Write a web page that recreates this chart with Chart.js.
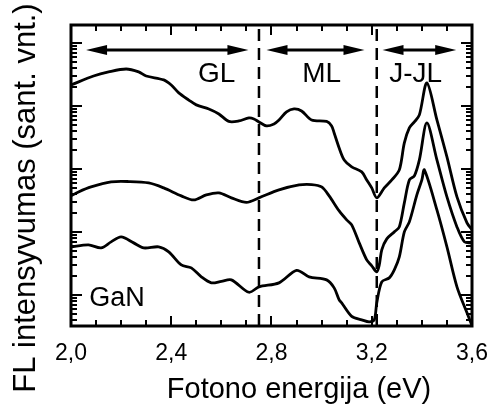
<!DOCTYPE html>
<html><head><meta charset="utf-8">
<script src="https://cdn.jsdelivr.net/npm/chart.js@4.4.1/dist/chart.umd.min.js"></script>
<style>html,body{margin:0;padding:0;background:#fff;} canvas{display:block;}</style>
</head><body>
<canvas id="c" width="492" height="405"></canvas>
<script>
// ---- data (photon energy in eV, PL intensity in arbitrary units, log scale) ----
const energyTop = [2.00,2.09,2.15,2.22,2.27,2.30,2.37,2.40,2.43,2.47,2.50,2.55,2.59,2.63,2.67,2.71,2.73,2.75,2.78,2.81,2.83,2.86,2.89,2.92,2.96,3.02,3.04,3.05,3.07,3.09,3.12,3.16,3.18,3.20,3.22,3.25,3.28,3.31,3.33,3.35,3.37,3.39,3.42,3.46,3.50,3.54,3.58,3.60];
const valueTop  = [21500,29900,34700,38600,34700,29900,25900,21500,16100,12400,10400,8960,7460,5680,5780,6450,6220,5570,4820,5180,5990,8040,8960,8330,5990,5680,4820,3720,2150,1390,1080,896,668,499,347,499,668,964,2590,4480,5570,7200,23200,5990,1550,359,139,108];

const energyMid = [2.00,2.03,2.08,2.16,2.23,2.31,2.37,2.44,2.49,2.54,2.59,2.64,2.70,2.75,2.83,2.91,2.96,3.00,3.03,3.07,3.10,3.12,3.15,3.18,3.20,3.22,3.23,3.24,3.26,3.29,3.31,3.33,3.35,3.37,3.39,3.42,3.46,3.50,3.54,3.57,3.60];
const valueMid  = [373,431,518,622,630,599,499,373,322,387,416,347,294,347,464,557,565,518,373,215,155,129,66.9,35.9,28.9,23.2,29.9,51.8,77.4,100,120,289,668,774,1390,5370,1390,359,120,69.4,66.9];

const energyGaN = [2.00,2.07,2.12,2.16,2.20,2.25,2.29,2.35,2.39,2.44,2.48,2.52,2.56,2.60,2.64,2.71,2.75,2.83,2.90,2.95,3.02,3.05,3.07,3.08,3.12,3.16,3.19,3.21,3.22,3.24,3.27,3.29,3.31,3.33,3.35,3.38,3.40,3.41,3.46,3.50,3.54,3.58,3.60];
const valueGaN  = [57.8,62.2,55.7,69.4,83.3,66.9,55.7,57.8,48.2,29.9,26.8,19.3,15.5,16.4,17.3,11.0,13.4,15.5,24.5,19.3,17.3,12.9,8.33,7.46,4.56,4.01,3.73,4.01,7.46,16.1,18.6,24.9,40.1,100,144,387,668,964,223,57.8,13.4,5.18,3.25];

const dividerEnergies = [2.75, 3.22];
const regionNames = ['GL', 'ML', 'J-JL'];
const regionFrom  = [2.06, 2.78, 3.243];
const regionTo    = [2.708, 3.171, 3.537];
const xMajorTicks = [2.0, 2.4, 2.8, 3.2, 3.6];
const xTickLabels = ['2,0', '2,4', '2,8', '3,2', '3,6'];
const xTitle = 'Fotono energija (eV)';
const yTitle = 'FL intensyvumas (sant. vnt.)';
const sampleLabel = 'GaN';
const yMin = 3.2, yMax = 193000;

// ---- presentation settings ----
const FONT = '"Liberation Sans", Arial, Helvetica, sans-serif';
const labelPos = {
  arrowLevel: 77400,
  regionCenters: [2.581, 3.0, 3.375],
  regionBaseline: 24000,
  sample: {x: 2.184, y: 6.57},
  xTitle: {px: 299, py: 398},
  yTitle: {px: 35, py: 198}
};

function toXY(xs, ys) { return xs.map((x, i) => ({x: x, y: ys[i]})); }
function isXMajor(v) { return xMajorTicks.some(m => Math.abs(m - v) < 1e-6); }

const decor = {
  id: 'decor',
  afterDatasetsDraw(chart) {
    const {ctx, chartArea: a, scales: {x, y}} = chart;
    ctx.save();
    ctx.strokeStyle = '#000';
    ctx.fillStyle = '#000';
    ctx.lineCap = 'butt';
    const seg = (x1, y1, x2, y2) => { ctx.beginPath(); ctx.moveTo(x1, y1); ctx.lineTo(x2, y2); ctx.stroke(); };
    ctx.lineWidth = 2;
    x.ticks.forEach(t => {
      const px = Math.round(x.getPixelForValue(t.value));
      const L = isXMajor(t.value) ? 10 : 6;
      seg(px, a.bottom, px, a.bottom - L);
      seg(px, a.top, px, a.top + L);
    });
    y.ticks.forEach(t => {
      const py = Math.round(y.getPixelForValue(t.value));
      if (py < a.top || py > a.bottom) return;
      const lg = Math.log10(t.value);
      const L = Math.abs(lg - Math.round(lg)) < 1e-6 ? 11 : 6;
      seg(a.left, py, a.left + L, py);
      seg(a.right, py, a.right - L, py);
    });
    ctx.lineWidth = 3;
    ctx.strokeRect(a.left, a.top, a.right - a.left, a.bottom - a.top);
    const ay = y.getPixelForValue(labelPos.arrowLevel);
    const head = 21, hh = 5;
    regionFrom.forEach((e0, i) => {
      const x1 = x.getPixelForValue(e0), x2 = x.getPixelForValue(regionTo[i]);
      seg(x1 + head - 2, ay, x2 - head + 2, ay);
      ctx.beginPath(); ctx.moveTo(x1, ay); ctx.lineTo(x1 + head, ay - hh); ctx.lineTo(x1 + head, ay + hh); ctx.closePath(); ctx.fill();
      ctx.beginPath(); ctx.moveTo(x2, ay); ctx.lineTo(x2 - head, ay - hh); ctx.lineTo(x2 - head, ay + hh); ctx.closePath(); ctx.fill();
    });
    ctx.textAlign = 'center';
    ctx.textBaseline = 'alphabetic';
    ctx.font = '28px ' + FONT;
    const by = y.getPixelForValue(labelPos.regionBaseline);
    regionNames.forEach((n, i) => ctx.fillText(n, x.getPixelForValue(labelPos.regionCenters[i]), by));
    ctx.font = '27px ' + FONT;
    ctx.fillText(sampleLabel, x.getPixelForValue(labelPos.sample.x), y.getPixelForValue(labelPos.sample.y));
    ctx.font = '29px ' + FONT;
    ctx.fillText(xTitle, labelPos.xTitle.px, labelPos.xTitle.py);
    ctx.save();
    ctx.translate(labelPos.yTitle.px, labelPos.yTitle.py);
    ctx.rotate(-Math.PI / 2);
    ctx.font = '31px ' + FONT;
    ctx.fillText(yTitle, 0, 0);
    ctx.restore();
    ctx.restore();
  }
};

const curveStyle = {borderColor: '#000', borderWidth: 2.8, pointRadius: 0, tension: 0.3, fill: false};
const datasets = [
  Object.assign({label: 'top', data: toXY(energyTop, valueTop)}, curveStyle),
  Object.assign({label: 'middle', data: toXY(energyMid, valueMid)}, curveStyle),
  Object.assign({label: 'GaN', data: toXY(energyGaN, valueGaN)}, curveStyle)
].concat(dividerEnergies.map(e => ({
  label: 'divider', data: [{x: e, y: yMin}, {x: e, y: yMax}],
  borderColor: '#000', borderWidth: 2.5, borderDash: [12, 7], pointRadius: 0, fill: false
})));

new Chart(document.getElementById('c'), {
  type: 'line',
  data: {datasets: datasets},
  options: {
    responsive: false,
    animation: false,
    layout: {padding: {top: 25, right: 20, left: 0, bottom: 0}},
    plugins: {legend: {display: false}, tooltip: {enabled: false}},
    scales: {
      x: {
        type: 'linear', min: 2.0, max: 3.6,
        ticks: {
          stepSize: 0.1, autoSkip: false, maxRotation: 0, padding: 14, color: '#000',
          font: {family: FONT, size: 23},
          callback: v => { const i = xMajorTicks.findIndex(m => Math.abs(m - v) < 1e-6); return i >= 0 ? xTickLabels[i] : ''; }
        },
        grid: {display: false, drawTicks: false},
        border: {display: false},
        afterFit: s => { s.height = 79; s.paddingLeft = 0; s.paddingRight = 0; }
      },
      y: {
        type: 'logarithmic', min: yMin, max: yMax,
        afterBuildTicks: s => {
          const t = [];
          for (let p = 0; p <= 5; p++) for (let k = 1; k <= 9; k++) { const v = k * Math.pow(10, p); if (v >= yMin && v <= yMax) t.push({value: v}); }
          s.ticks = t;
        },
        ticks: {display: false},
        grid: {display: false, drawTicks: false},
        border: {display: false},
        afterFit: s => { s.width = 71; s.paddingTop = 0; s.paddingBottom = 0; }
      }
    }
  },
  plugins: [decor]
});
</script>
</body></html>
